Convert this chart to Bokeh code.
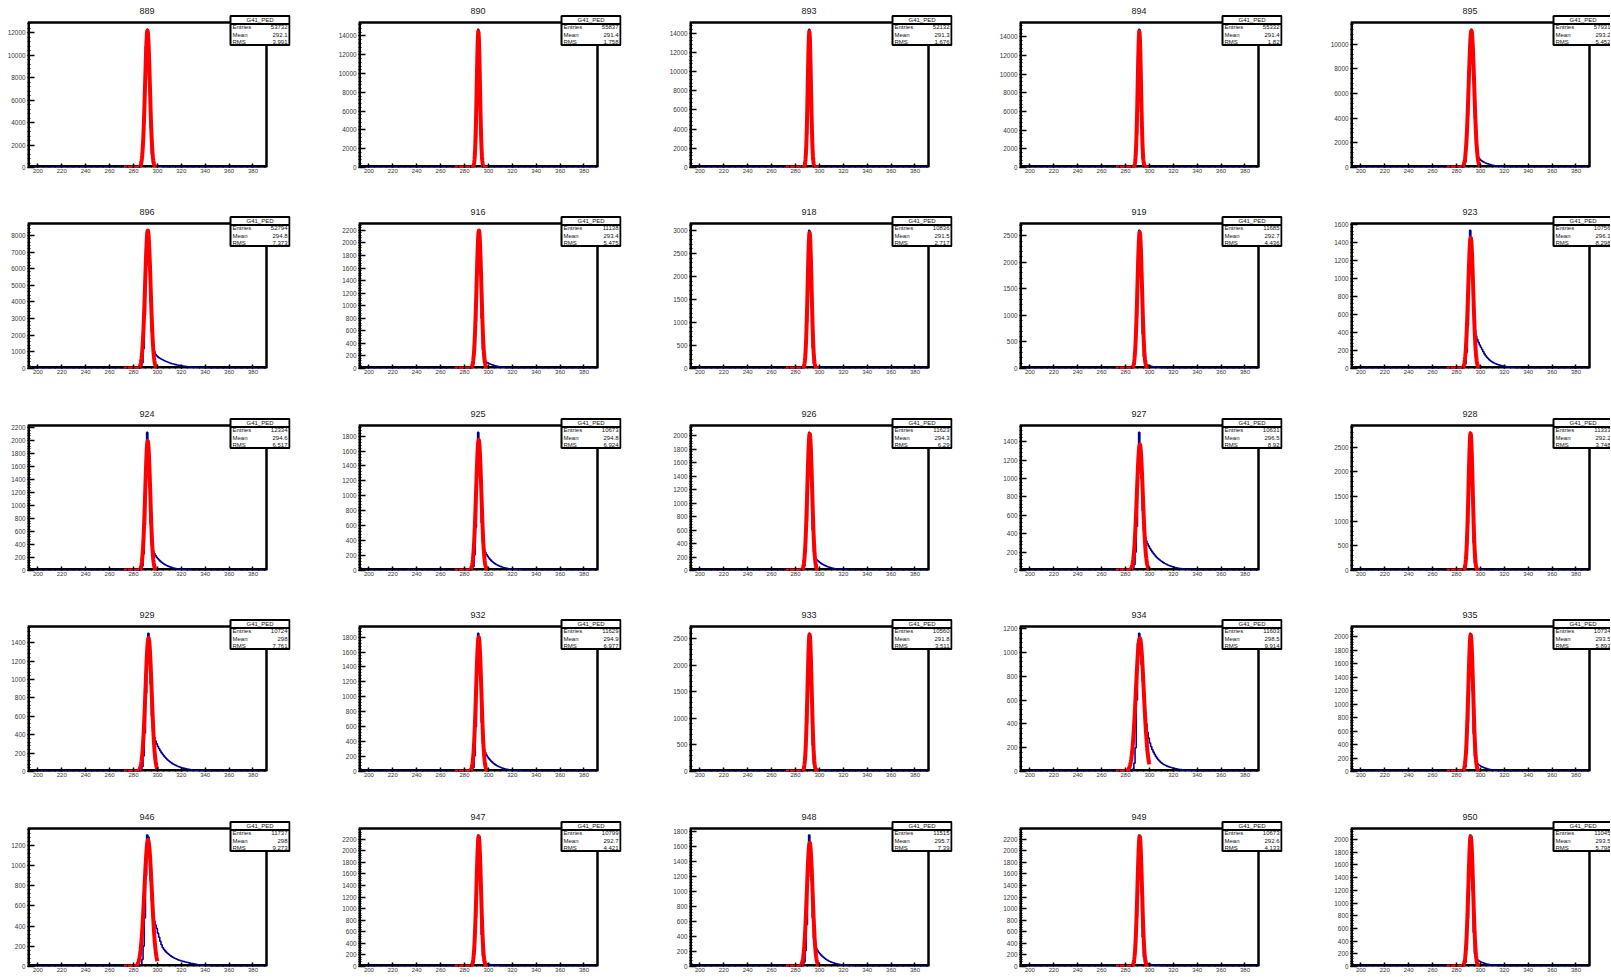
import numpy as np
from bokeh.plotting import figure
from bokeh.layouts import gridplot
from bokeh.models import FixedTicker, Range1d
from bokeh.embed import file_html
from bokeh.resources import INLINE
from bokeh.core.properties import value

# ---------------- data ----------------
channels = [889, 890, 893, 894, 895,
            896, 916, 918, 919, 923,
            924, 925, 926, 927, 928,
            929, 932, 933, 934, 935,
            946, 947, 948, 949, 950]
hist_name = "G41_PED"
entries = ["53732", "55837", "52132", "55332", "57931",
           "52794", "11138", "10836", "11685", "10756",
           "12334", "10673", "11623", "10631", "11333",
           "10724", "11629", "10560", "11603", "10734",
           "11737", "10799", "11515", "10673", "11045"]
means = ["292.1", "291.4", "291.3", "291.4", "293.2",
         "294.8", "293.4", "291.5", "292.7", "296.1",
         "294.6", "294.8", "294.3", "296.5", "292.2",
         "298", "294.9", "291.8", "298.5", "293.5",
         "298", "292.7", "295.7", "292.6", "293.5"]
rms = ["3.991", "1.758", "1.676", "1.82", "5.452",
       "7.373", "5.475", "2.717", "4.436", "8.298",
       "6.517", "6.924", "6.29", "8.92", "3.748",
       "7.761", "6.977", "3.511", "9.914", "5.893",
       "9.273", "4.421", "7.39", "4.133", "5.798"]
y_steps = [2000, 2000, 2000, 2000, 2000,
           1000, 200, 500, 500, 200,
           200, 200, 200, 200, 500,
           200, 200, 500, 200, 200,
           200, 200, 200, 200, 200]

x_start, x_end = 191.3, 391.3
x_major = [200, 220, 240, 260, 280, 300, 320, 340, 360, 380]
first_bin = 284   # lower edge of the first listed 1-unit bin

counts_889 = [0, 40, 250, 1000, 3200, 7000, 10800, 12300, 11200, 7500, 3500, 1200, 400, 230, 175, 145, 120, 100, 85, 72, 60, 50, 42, 35, 29, 24, 20, 16, 13, 10, 8, 6, 4, 3, 2]
counts_890 = [0, 0, 10, 80, 600, 3200, 9500, 14700, 11500, 4500, 900, 120, 40, 25, 18, 12, 9, 6, 4, 3, 2]
counts_893 = [0, 0, 12, 90, 650, 3400, 9800, 14400, 11000, 4200, 850, 110, 35, 22, 15, 10, 7, 5, 3, 2]
counts_894 = [0, 0, 15, 100, 700, 3600, 10200, 14800, 11200, 4400, 950, 140, 45, 28, 20, 14, 10, 7, 5, 3, 2]
counts_895 = [0, 20, 100, 450, 1600, 4200, 7800, 10400, 11200, 10500, 7600, 4000, 1800, 1000, 800, 680, 590, 520, 460, 410, 365, 325, 290, 260, 232, 207, 185, 165, 147, 131, 117, 104, 93, 83, 74, 66, 58, 51, 45, 40, 35, 30, 26, 22, 19, 16, 13, 11, 9, 7, 5, 4, 3, 2]
counts_896 = [0, 15, 80, 350, 1200, 3200, 6200, 8300, 8200, 6400, 4000, 2200, 1300, 1000, 860, 770, 700, 650, 605, 562, 522, 485, 450, 418, 388, 360, 335, 311, 289, 268, 249, 231, 214, 199, 185, 171, 159, 148, 137, 127, 118, 109, 101, 94, 87, 80, 74, 68, 62, 57, 52, 47, 43, 39, 35, 31, 28, 25, 22, 19, 16, 14, 12, 10, 8, 6, 5]
counts_916 = [0, 3, 15, 70, 280, 750, 1500, 2150, 2200, 1600, 800, 300, 140, 110, 100, 90, 80, 72, 64, 57, 50, 44, 39, 34, 30, 26, 23, 20, 17, 15, 13, 11, 9, 8, 7, 6, 5, 4, 3, 3, 2, 2]
counts_918 = [0, 2, 10, 60, 300, 1000, 2200, 3000, 2600, 1400, 450, 110, 45, 30, 24, 19, 15, 12, 10, 8, 6, 5, 4, 3, 2, 2]
counts_919 = [0, 3, 15, 80, 330, 950, 1900, 2600, 2450, 1550, 650, 220, 100, 75, 64, 56, 49, 43, 38, 33, 29, 25, 22, 19, 16, 14, 12, 10, 8, 7, 6, 5, 4, 3, 2]
counts_923 = [0, 3, 12, 50, 180, 480, 1150, 1530, 1400, 1000, 620, 420, 360, 320, 290, 260, 235, 210, 185, 162, 142, 125, 110, 97, 86, 76, 68, 61, 55, 49, 44, 40, 36, 32, 29, 26, 23, 21, 19, 17, 15, 13, 12, 10, 9, 8, 7, 6, 5, 4, 3, 3, 2]
counts_924 = [0, 3, 15, 70, 260, 700, 1500, 2130, 1950, 1350, 720, 400, 300, 260, 230, 205, 182, 162, 144, 128, 114, 101, 90, 80, 71, 63, 56, 50, 44, 39, 35, 31, 27, 24, 21, 19, 17, 15, 13, 11, 10, 8, 7, 6, 5, 4, 3, 2]
counts_925 = [0, 3, 12, 55, 210, 580, 1250, 1850, 1700, 1180, 640, 370, 280, 245, 215, 190, 168, 149, 132, 117, 104, 92, 82, 73, 65, 58, 52, 46, 41, 36, 32, 28, 25, 22, 19, 17, 15, 13, 11, 10, 8, 7, 6, 5, 4, 3, 2]
counts_926 = [0, 3, 15, 70, 270, 730, 1500, 2050, 1920, 1250, 600, 280, 190, 165, 148, 133, 119, 106, 95, 85, 76, 68, 60, 53, 47, 42, 37, 33, 29, 26, 23, 20, 18, 16, 14, 12, 10, 9, 8, 7, 6, 5, 4, 3, 2]
counts_927 = [0, 4, 18, 65, 200, 480, 1050, 1500, 1350, 1000, 650, 440, 360, 320, 290, 265, 242, 221, 202, 184, 168, 153, 139, 127, 116, 106, 97, 88, 80, 73, 66, 60, 55, 50, 45, 41, 37, 33, 30, 27, 24, 22, 20, 18, 16, 14, 12, 11, 10, 9, 8, 7, 6, 5, 4, 3, 3, 2, 2]
counts_928 = [0, 2, 10, 60, 290, 950, 2000, 2800, 2550, 1500, 560, 150, 60, 42, 35, 29, 24, 20, 17, 14, 12, 10, 8, 7, 6, 5, 4, 3, 2]
counts_929 = [0, 3, 15, 55, 170, 420, 850, 1300, 1500, 1350, 950, 600, 430, 370, 330, 300, 272, 247, 225, 205, 187, 170, 155, 141, 128, 117, 106, 97, 88, 80, 73, 66, 60, 55, 50, 45, 41, 37, 34, 31, 28, 25, 23, 21, 19, 17, 15, 13, 12, 11, 10, 9, 8, 7, 6, 5, 4, 3, 3, 2, 2]
counts_932 = [0, 3, 12, 55, 210, 600, 1300, 1850, 1750, 1220, 660, 380, 290, 250, 220, 195, 173, 154, 137, 122, 108, 96, 85, 76, 67, 60, 53, 47, 42, 37, 33, 29, 26, 23, 20, 18, 16, 14, 12, 11, 9, 8, 7, 6, 5, 4, 3, 2]
counts_933 = [0, 2, 10, 60, 280, 900, 1900, 2600, 2350, 1350, 500, 140, 65, 50, 42, 35, 29, 24, 20, 17, 14, 12, 10, 8, 7, 6, 5, 4, 3, 2]
counts_934 = [0, 5, 20, 70, 200, 600, 1080, 1160, 1050, 900, 760, 620, 500, 400, 330, 280, 240, 210, 185, 163, 144, 127, 112, 99, 88, 78, 70, 63, 57, 52, 47, 43, 39, 36, 33, 30, 27, 25, 23, 21, 19, 17, 16, 14, 13, 12, 11, 10, 9, 8, 7, 6, 6, 5, 4, 4, 3, 3, 2, 2]
counts_935 = [0, 3, 15, 70, 270, 730, 1500, 2050, 1900, 1200, 560, 230, 140, 115, 100, 88, 78, 69, 61, 54, 48, 42, 37, 33, 29, 26, 23, 20, 18, 16, 14, 12, 10, 9, 8, 7, 6, 5, 4, 3, 2]
counts_946 = [0, 5, 20, 70, 200, 480, 900, 1300, 1280, 1100, 850, 650, 520, 450, 410, 377, 330, 290, 250, 215, 188, 170, 155, 142, 131, 121, 112, 103, 95, 88, 82, 76, 71, 66, 62, 58, 54, 51, 48, 45, 42, 39, 36, 33, 30, 28, 26, 24, 22, 20, 18, 16, 14, 13, 12, 11, 10, 9, 8, 7, 6, 5, 4, 3, 2]
counts_947 = [0, 3, 12, 70, 290, 840, 1680, 2270, 2120, 1330, 550, 180, 80, 60, 52, 45, 39, 34, 30, 26, 22, 19, 16, 14, 12, 10, 8, 7, 6, 5, 4, 3, 2]
counts_948 = [0, 4, 15, 60, 210, 560, 1200, 1750, 1600, 1150, 650, 380, 280, 240, 212, 190, 170, 152, 136, 122, 109, 97, 87, 78, 70, 62, 56, 50, 45, 40, 36, 32, 28, 25, 22, 20, 18, 16, 14, 12, 11, 10, 9, 8, 7, 6, 5, 4, 3, 2]
counts_949 = [0, 3, 12, 70, 290, 850, 1700, 2270, 2090, 1280, 510, 160, 75, 58, 50, 44, 38, 33, 29, 25, 21, 18, 15, 13, 11, 9, 8, 7, 6, 5, 4, 3, 2]
counts_950 = [0, 3, 14, 68, 270, 750, 1520, 2070, 1900, 1200, 540, 205, 125, 105, 92, 81, 72, 64, 57, 50, 44, 39, 34, 30, 27, 24, 21, 18, 16, 14, 12, 10, 9, 8, 7, 6, 5, 4, 3, 2]

counts = [counts_889, counts_890, counts_893, counts_894, counts_895,
          counts_896, counts_916, counts_918, counts_919, counts_923,
          counts_924, counts_925, counts_926, counts_927, counts_928,
          counts_929, counts_932, counts_933, counts_934, counts_935,
          counts_946, counts_947, counts_948, counts_949, counts_950]

# Gaussian fit parameters (constant, mean, sigma) and fit range
fit_const = [12200, 14500, 14200, 14600, 11100,
             8300, 2200, 2950, 2570, 1450,
             2000, 1750, 2030, 1370, 2780,
             1450, 1800, 2580, 1120, 2030,
             1250, 2250, 1650, 2250, 2050]
fit_mean = [291.7, 291.6, 291.6, 291.6, 292.5,
            292.0, 292.1, 291.8, 291.9, 291.9,
            291.9, 291.9, 291.9, 292.0, 291.8,
            292.6, 291.9, 291.8, 292.0, 291.9,
            292.2, 291.9, 291.9, 291.9, 291.9]
fit_sigma = [2.0, 1.35, 1.35, 1.4, 2.3,
             2.3, 2.0, 1.65, 1.9, 2.1,
             2.1, 2.2, 2.0, 2.5, 1.75,
             2.6, 2.2, 1.75, 3.3, 2.0,
             3.1, 1.9, 2.4, 1.9, 2.0]
fit_lo = [272] * 25
fit_hi = [300] * 25

# ---------------- layout (pixels) ----------------
col_w = [331, 331, 330, 331, 287]
row_h = [201, 202, 201, 202, 170]
LEFT = 27          # axis frame left offset in each pad
FW = 239           # axis frame width
TOP = 22           # axis frame top offset in each pad
EXT_T = 20         # drawing area above frame (title + stat box)
FH = [145, 145, 145, 145, 138]

FONT = "Liberation Sans"
FONTV = value("Liberation Sans")
rows = []
for r in range(5):
    row = []
    H = FH[r]
    for c in range(5):
        i = r * 5 + c
        cts = counts[i]
        ymax = 1.05 * max(cts)
        ext_r = min(24, col_w[c] - LEFT - FW)
        sx = FW / (x_end - x_start)
        sy = H / ymax
        X = lambda px: x_start + px / sx
        Y = lambda py: ymax + py / sy
        p = figure(width=col_w[c], height=row_h[r],
                   x_range=Range1d(x_start, X(FW + ext_r)), y_range=Range1d(0, Y(EXT_T)),
                   output_backend="svg", toolbar_location=None,
                   min_border_left=LEFT, min_border_right=col_w[c] - LEFT - FW - ext_r,
                   min_border_top=TOP - EXT_T, min_border_bottom=row_h[r] - TOP - H,
                   background_fill_color="white", border_fill_color="white",
                   outline_line_color=None)
        p.xgrid.visible = False
        p.ygrid.visible = False

        # x axis
        xminor = [v for v in range(195, 391, 5)]
        p.xaxis.ticker = FixedTicker(ticks=x_major, minor_ticks=xminor)
        p.xaxis.major_tick_in = 4
        p.xaxis.major_tick_out = 0
        p.xaxis.minor_tick_in = 2
        p.xaxis.minor_tick_out = 0
        p.xaxis.major_label_standoff = 1
        p.xaxis.major_label_text_font_size = "6px"
        p.xaxis.major_label_text_font = FONT
        p.xaxis.major_label_text_color = "#333333"
        # y axis
        st = y_steps[i]
        yt = [k * st for k in range(0, int(ymax // st) + 1)]
        ym = [k * st / 5 for k in range(0, int(ymax // (st / 5)) + 1)]
        p.yaxis.ticker = FixedTicker(ticks=yt, minor_ticks=ym)
        p.yaxis.major_tick_in = 7
        p.yaxis.major_tick_out = 0
        p.yaxis.minor_tick_in = 3
        p.yaxis.minor_tick_out = 0
        p.yaxis.major_label_standoff = 2
        p.yaxis.major_label_text_font_size = "6.4px"
        p.yaxis.major_label_text_font = FONT
        p.yaxis.major_label_text_color = "#333333"
        for ax in (p.xaxis[0], p.yaxis[0]):
            ax.axis_line_color = None
            ax.major_tick_line_width = 1.5
            ax.minor_tick_line_width = 1.2
            ax.major_tick_line_color = "black"
            ax.minor_tick_line_color = "black"

        # axis frame (drawn first, as in the original)
        p.line([x_start, x_end, x_end], [ymax, ymax, 0], line_color="black", line_width=2.5)
        p.line([x_start, x_start, x_end], [ymax, 0, 0], line_color="black", line_width=5)

        # histogram (1-unit bins, zero outside the listed bins)
        xs = [x_start] + [first_bin + k for k in range(len(cts))] + [first_bin + len(cts), x_end]
        ys = [0] + list(cts) + [0, 0]
        p.step(xs, ys, mode="after", line_color="#000099", line_width=1.6)

        # gaussian fit
        fx = np.linspace(fit_lo[i], fit_hi[i], 100)
        fy = fit_const[i] * np.exp(-0.5 * ((fx - fit_mean[i]) / fit_sigma[i]) ** 2)
        p.line(fx, fy, line_color="red", line_width=4, line_join="round")

        # title
        p.text(x=[(x_start + x_end) / 2], y=[Y(12)], text=[str(channels[i])],
               text_align="center", text_baseline="middle", text_font_size="9px",
               text_font=FONTV, text_color="#222222")

        # statistics box
        p.quad(left=[X(203)], right=[X(262)], top=[Y(6.5)], bottom=[Y(-22.5)],
               fill_color="white", line_color="black", line_width=2)
        p.line([X(203), X(262)], [Y(-1.5), Y(-1.5)], line_color="black", line_width=2)
        p.text(x=[X(232.5)], y=[Y(2.6)], text=[hist_name], text_align="center",
               text_baseline="middle", text_font_size="6px", text_font=FONTV, text_color="#111111")
        names = ["Entries", "Mean", "RMS"]
        vals = [entries[i], means[i], rms[i]]
        yy = [Y(-4.8 - k * 7.4) for k in range(3)]
        p.text(x=[X(205)] * 3, y=yy, text=names, text_align="left", text_baseline="middle",
               text_font_size="6px", text_font=FONTV, text_color="#111111")
        p.text(x=[X(260)] * 3, y=yy, text=vals, text_align="right", text_baseline="middle",
               text_font_size="6px", text_font=FONTV, text_color="#111111")
        row.append(p)
    rows.append(row)

grid = gridplot(rows, toolbar_location=None)
open("out.html", "w").write(file_html(grid, INLINE))
